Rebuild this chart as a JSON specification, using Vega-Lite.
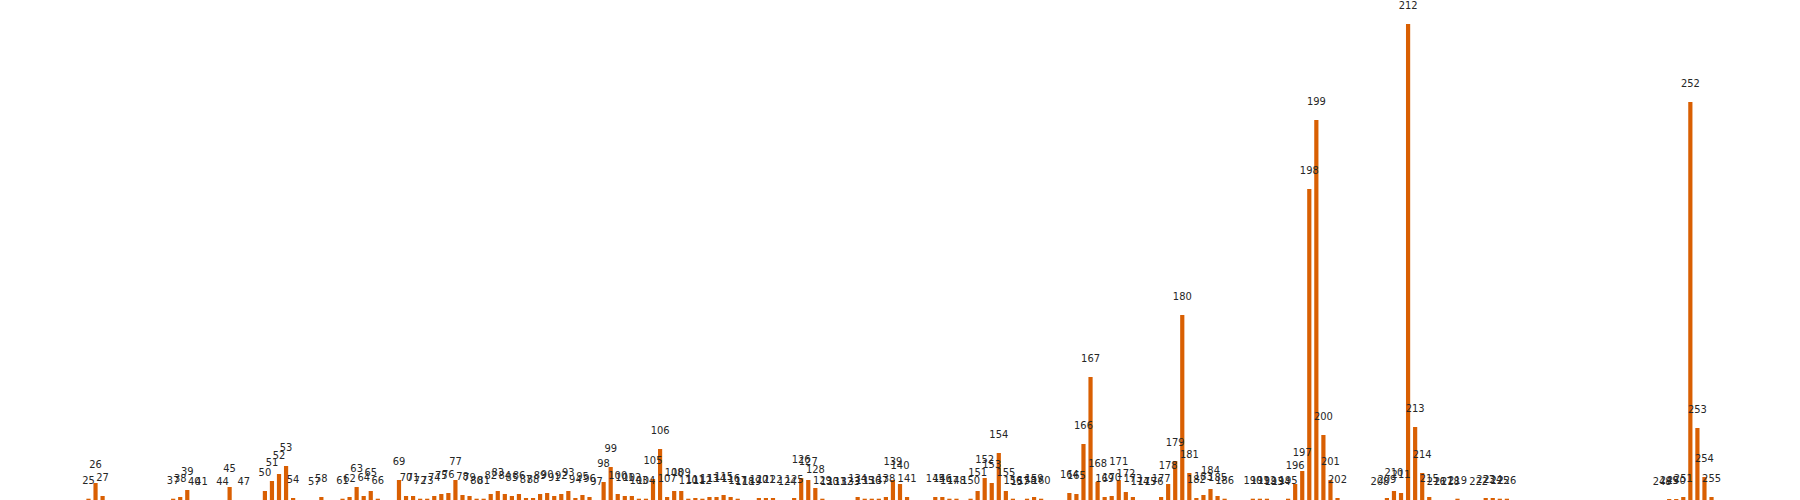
{
  "$schema": "https://vega.github.io/schema/vega-lite/v6.json",
  "description": "Byte value histogram, every bar labelled with its value.",
  "width": 1800,
  "height": 500,
  "autosize": {"type": "none"},
  "padding": 0,
  "background": "white",
  "config": {"view": {"stroke": null}},
  "data": {
    "values": [
      {"n": 25, "h": 1.3}, {"n": 26, "h": 17}, {"n": 27, "h": 4},
      {"n": 37, "h": 1.3}, {"n": 38, "h": 3}, {"n": 39, "h": 10}, {"n": 40, "h": 0}, {"n": 41, "h": 0},
      {"n": 44, "h": 0}, {"n": 45, "h": 13}, {"n": 47, "h": 0},
      {"n": 50, "h": 9}, {"n": 51, "h": 19}, {"n": 52, "h": 26}, {"n": 53, "h": 34}, {"n": 54, "h": 2},
      {"n": 57, "h": 0}, {"n": 58, "h": 3},
      {"n": 61, "h": 1.3}, {"n": 62, "h": 3}, {"n": 63, "h": 13}, {"n": 64, "h": 4}, {"n": 65, "h": 9}, {"n": 66, "h": 1.3},
      {"n": 69, "h": 20}, {"n": 70, "h": 4}, {"n": 71, "h": 4}, {"n": 72, "h": 1.3}, {"n": 73, "h": 1.3},
      {"n": 74, "h": 4}, {"n": 75, "h": 6}, {"n": 76, "h": 7}, {"n": 77, "h": 20}, {"n": 78, "h": 5},
      {"n": 79, "h": 4}, {"n": 80, "h": 1.3}, {"n": 81, "h": 1.3}, {"n": 82, "h": 6}, {"n": 83, "h": 9},
      {"n": 84, "h": 6}, {"n": 85, "h": 4}, {"n": 86, "h": 6}, {"n": 87, "h": 2}, {"n": 88, "h": 2},
      {"n": 89, "h": 6}, {"n": 90, "h": 7}, {"n": 91, "h": 4}, {"n": 92, "h": 6}, {"n": 93, "h": 9},
      {"n": 94, "h": 2}, {"n": 95, "h": 5}, {"n": 96, "h": 3}, {"n": 97, "h": 0}, {"n": 98, "h": 18},
      {"n": 99, "h": 33}, {"n": 100, "h": 6}, {"n": 101, "h": 4}, {"n": 102, "h": 4}, {"n": 103, "h": 1.3},
      {"n": 104, "h": 1.3}, {"n": 105, "h": 21}, {"n": 106, "h": 51}, {"n": 107, "h": 3}, {"n": 108, "h": 9},
      {"n": 109, "h": 9}, {"n": 110, "h": 1.3}, {"n": 111, "h": 2}, {"n": 112, "h": 1.3}, {"n": 113, "h": 3},
      {"n": 114, "h": 3}, {"n": 115, "h": 5}, {"n": 116, "h": 3}, {"n": 117, "h": 1.3}, {"n": 118, "h": 0},
      {"n": 119, "h": 0}, {"n": 120, "h": 2}, {"n": 121, "h": 2}, {"n": 122, "h": 2}, {"n": 124, "h": 0},
      {"n": 125, "h": 2}, {"n": 126, "h": 22}, {"n": 127, "h": 20}, {"n": 128, "h": 12}, {"n": 129, "h": 1.3},
      {"n": 130, "h": 0}, {"n": 131, "h": 0}, {"n": 132, "h": 0}, {"n": 133, "h": 0}, {"n": 134, "h": 3},
      {"n": 135, "h": 1.3}, {"n": 136, "h": 1.3}, {"n": 137, "h": 1.3}, {"n": 138, "h": 3}, {"n": 139, "h": 20},
      {"n": 140, "h": 16}, {"n": 141, "h": 3},
      {"n": 145, "h": 3}, {"n": 146, "h": 3}, {"n": 147, "h": 1.3}, {"n": 148, "h": 1.3},
      {"n": 150, "h": 1.3}, {"n": 151, "h": 9}, {"n": 152, "h": 22}, {"n": 153, "h": 17}, {"n": 154, "h": 47},
      {"n": 155, "h": 9}, {"n": 156, "h": 1.3}, {"n": 157, "h": 0}, {"n": 158, "h": 1.3}, {"n": 159, "h": 3},
      {"n": 160, "h": 1.3},
      {"n": 164, "h": 7}, {"n": 165, "h": 6}, {"n": 166, "h": 56}, {"n": 167, "h": 123}, {"n": 168, "h": 18},
      {"n": 169, "h": 3}, {"n": 170, "h": 4}, {"n": 171, "h": 20}, {"n": 172, "h": 8}, {"n": 173, "h": 3},
      {"n": 174, "h": 0}, {"n": 175, "h": 0}, {"n": 176, "h": 0}, {"n": 177, "h": 3}, {"n": 178, "h": 16},
      {"n": 179, "h": 39}, {"n": 180, "h": 185}, {"n": 181, "h": 27}, {"n": 182, "h": 2}, {"n": 183, "h": 5},
      {"n": 184, "h": 11}, {"n": 185, "h": 4}, {"n": 186, "h": 1.3},
      {"n": 190, "h": 1.3}, {"n": 191, "h": 1.3}, {"n": 192, "h": 1.3}, {"n": 193, "h": 0}, {"n": 194, "h": 0},
      {"n": 195, "h": 1.3}, {"n": 196, "h": 16}, {"n": 197, "h": 29}, {"n": 198, "h": 311}, {"n": 199, "h": 380},
      {"n": 200, "h": 65}, {"n": 201, "h": 20}, {"n": 202, "h": 2},
      {"n": 208, "h": 0}, {"n": 209, "h": 2}, {"n": 210, "h": 9}, {"n": 211, "h": 7}, {"n": 212, "h": 476},
      {"n": 213, "h": 73}, {"n": 214, "h": 27}, {"n": 215, "h": 3}, {"n": 216, "h": 0}, {"n": 217, "h": 0},
      {"n": 218, "h": 0}, {"n": 219, "h": 1.3},
      {"n": 222, "h": 0}, {"n": 223, "h": 2}, {"n": 224, "h": 2}, {"n": 225, "h": 1.3}, {"n": 226, "h": 1.3},
      {"n": 248, "h": 0}, {"n": 249, "h": 1}, {"n": 250, "h": 1}, {"n": 251, "h": 3}, {"n": 252, "h": 398},
      {"n": 253, "h": 72}, {"n": 254, "h": 23}, {"n": 255, "h": 3}
    ]
  },
  "encoding": {
    "x": {
      "field": "n",
      "type": "quantitative",
      "scale": {"domain": [13.17, 266.83], "nice": false, "zero": false},
      "axis": null
    },
    "y": {
      "field": "h",
      "type": "quantitative",
      "scale": {"domain": [0, 500], "nice": false},
      "axis": null
    }
  },
  "layer": [
    {
      "mark": {"type": "bar", "size": 4.2, "color": "#d95f02"}
    },
    {
      "mark": {
        "type": "text",
        "align": "center",
        "baseline": "alphabetic",
        "dy": -15,
        "font": "Liberation Sans Narrow, DejaVu Sans Condensed, sans-serif",
        "fontSize": 11,
        "color": "#262626"
      },
      "encoding": {"text": {"field": "n", "type": "nominal"}}
    }
  ]
}
